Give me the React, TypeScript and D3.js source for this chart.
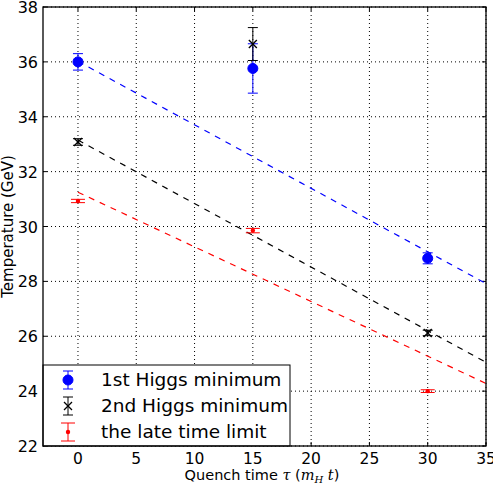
import React from 'react';
import * as d3 from 'd3';

// quench times
const taus = [0, 15, 30];

// series values and errors (GeV)
const higgs1 = [36.0, 35.76, 28.84];
const higgs1Err = [0.3, 0.9, 0.2];
const higgs2 = [33.08, 36.65, 26.12];
const higgs2Err = [0.12, 0.6, 0.1];
const lateTime = [30.93, 29.85, 24.0];
const lateTimeErr = [0.06, 0.08, 0.05];

// linear fits, evaluated at the ends of the fit range
const fitTaus = [0, 35];
const fit1 = [36.02, 27.92];
const fit2 = [33.15, 25.05];
const fit3 = [31.25, 24.28];

const xTicks = [0, 5, 10, 15, 20, 25, 30, 35];
const yTicks = [22, 24, 26, 28, 30, 32, 34, 36, 38];
const legendLabels = ['1st Higgs minimum', '2nd Higgs minimum', 'the late time limit'];

const W = 493;
const H = 484;
const margin = { top: 7, right: 7, bottom: 38, left: 43 };
const font = 'DejaVu Sans, sans-serif';
const serif = 'DejaVu Serif, serif';

const App = () => {
  const x = d3.scaleLinear().domain([-3, 35]).range([margin.left, W - margin.right]);
  const y = d3.scaleLinear().domain([22, 38]).range([H - margin.bottom, margin.top]);
  const line = d3.line<number>().x((_, i) => x(fitTaus[i]));

  const series = [
    { vals: higgs1, errs: higgs1Err, fit: fit1, color: '#0000ff', marker: 'o', cap: 5 },
    { vals: higgs2, errs: higgs2Err, fit: fit2, color: '#000000', marker: 'x', cap: 5 },
    { vals: lateTime, errs: lateTimeErr, fit: fit3, color: '#ff0000', marker: '.', cap: 7 },
  ];

  const drawMarker = (m: string, cx: number, cy: number, color: string) => {
    if (m === 'o') return <circle cx={cx} cy={cy} r={5} fill={color} stroke={color} />;
    if (m === '.') return <circle cx={cx} cy={cy} r={2.2} fill={color} />;
    return (
      <g stroke={color} strokeWidth={1.3}>
        <line x1={cx - 4} y1={cy - 4} x2={cx + 4} y2={cy + 4} />
        <line x1={cx - 4} y1={cy + 4} x2={cx + 4} y2={cy - 4} />
      </g>
    );
  };

  const drawErrorBar = (cx: number, y0: number, y1: number, cap: number, color: string) => (
    <g stroke={color} strokeWidth={1}>
      <line x1={cx} x2={cx} y1={y0} y2={y1} />
      <line x1={cx - cap} x2={cx + cap} y1={y0} y2={y0} />
      <line x1={cx - cap} x2={cx + cap} y1={y1} y2={y1} />
    </g>
  );

  const left = margin.left;
  const right = W - margin.right;
  const top = margin.top;
  const bottom = H - margin.bottom;

  // legend box
  const lgX = left;
  const lgY = 365;
  const lgW = 247;
  const lgH = bottom - lgY;

  return (
    <svg width={W} height={H} style={{ position: 'absolute', left: 0, top: 0, background: '#fff' }}>
      <rect width={W} height={H} fill="#fff" />
      {/* grid */}
      <g stroke="#000" strokeWidth={1} strokeDasharray="1,3">
        {xTicks.map(t => (
          <line key={'gx' + t} x1={x(t)} x2={x(t)} y1={top} y2={bottom} />
        ))}
        {yTicks.map(t => (
          <line key={'gy' + t} x1={left} x2={right} y1={y(t)} y2={y(t)} />
        ))}
      </g>
      {/* ticks inside on all four sides */}
      <g stroke="#000" strokeWidth={1}>
        {xTicks.map(t => (
          <g key={'tx' + t}>
            <line x1={x(t)} x2={x(t)} y1={bottom} y2={bottom - 4} />
            <line x1={x(t)} x2={x(t)} y1={top} y2={top + 4} />
          </g>
        ))}
        {yTicks.map(t => (
          <g key={'ty' + t}>
            <line x1={left} x2={left + 4} y1={y(t)} y2={y(t)} />
            <line x1={right} x2={right - 4} y1={y(t)} y2={y(t)} />
          </g>
        ))}
      </g>
      {/* fit lines */}
      {series.map((s, i) => (
        <path key={'fit' + i} d={line.y(v => y(v))(s.fit) || ''} fill="none" stroke={s.color}
          strokeWidth={1.2} strokeDasharray="6,6" />
      ))}
      {/* data */}
      {series.map((s, i) => (
        <g key={'s' + i}>
          {s.vals.map((v, j) => (
            <g key={j}>
              {drawErrorBar(x(taus[j]), y(v + s.errs[j]), y(v - s.errs[j]), s.cap, s.color)}
              {drawMarker(s.marker, x(taus[j]), y(v), s.color)}
            </g>
          ))}
        </g>
      ))}
      {/* legend */}
      <rect x={lgX} y={lgY} width={lgW} height={lgH} fill="#fff" stroke="#000" strokeWidth={1} />
      {series.map((s, i) => {
        const cy = lgY + 15 + i * 26;
        const cx = lgX + 25;
        return (
          <g key={'lg' + i}>
            {drawErrorBar(cx, cy - 9, cy + 9, s.cap, s.color)}
            {drawMarker(s.marker, cx, cy, s.color)}
            <text x={lgX + 58} y={cy + 6} fontFamily={font} fontSize={18.5}>{legendLabels[i]}</text>
          </g>
        );
      })}
      {/* frame */}
      <rect x={left} y={top} width={right - left} height={bottom - top} fill="none" stroke="#000" strokeWidth={1.3} />
      {/* tick labels */}
      {xTicks.map(t => (
        <text key={'lx' + t} x={x(t)} y={bottom + 18} textAnchor="middle" fontFamily={font} fontSize={15.5}>{t}</text>
      ))}
      {yTicks.map(t => (
        <text key={'ly' + t} x={left - 5} y={y(t) + 6} textAnchor="end" fontFamily={font} fontSize={16}>{t}</text>
      ))}
      <text x={262} y={H - 4} textAnchor="middle" fontFamily={font} fontSize={14.5}>
        Quench time <tspan fontFamily={serif} fontStyle="italic">τ</tspan> (
        <tspan fontFamily={serif} fontStyle="italic">m</tspan>
        <tspan fontFamily={serif} fontStyle="italic" fontSize={10} dy={3}>H</tspan>
        <tspan fontFamily={serif} fontStyle="italic" dy={-3}> t</tspan>)
      </text>
      <text transform={`translate(13, ${(top + bottom) / 2}) rotate(-90)`} textAnchor="middle"
        fontFamily={font} fontSize={15}>Temperature (GeV)</text>
    </svg>
  );
};

export default App;
